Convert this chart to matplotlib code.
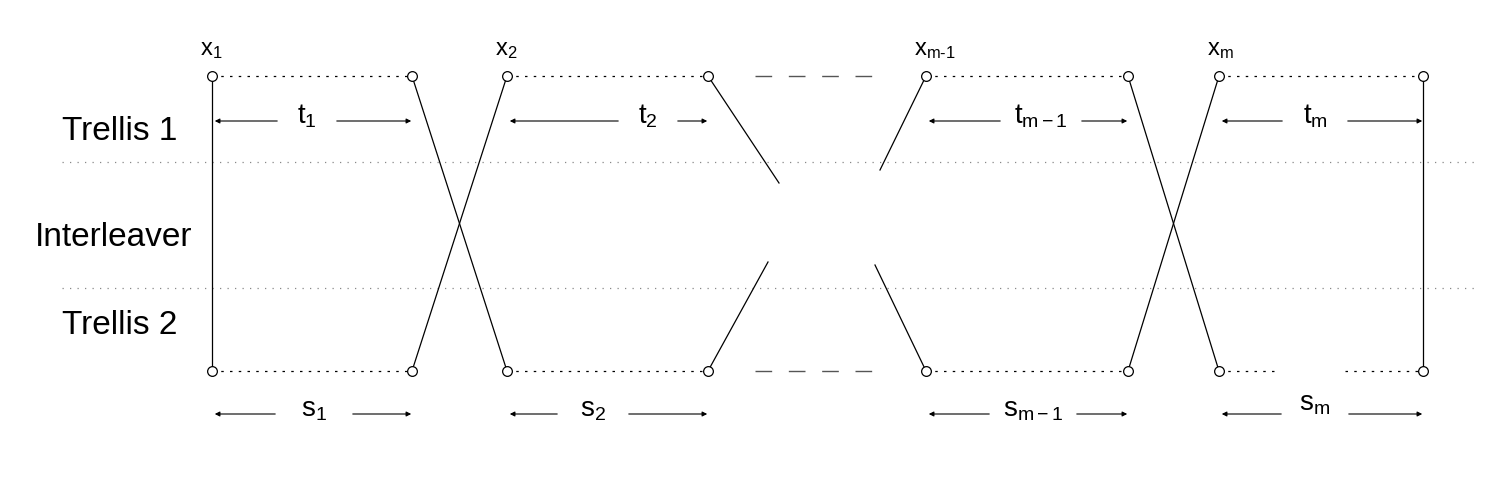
import matplotlib.pyplot as plt

plt.rcParams['font.family'] = ['Liberation Sans', 'DejaVu Sans']
plt.rcParams['mathtext.fontset'] = 'custom'
plt.rcParams['mathtext.rm'] = 'Liberation Sans'
plt.rcParams['mathtext.it'] = 'Liberation Sans'

# block edges (pixel coordinates of the original drawing)
left_x = [212, 507, 926, 1219]
right_x = [412, 708, 1128, 1423]
x_labels = ['$\\mathregular{x_1}$', '$\\mathregular{x_2}$', '$\\mathregular{x_{m\\text{-}1}}$', '$\\mathregular{x_m}$']
t_labels = ['$\\mathregular{t_1}$', '$\\mathregular{t_2}$', '$\\mathregular{t_{m-1}}$', '$\\mathregular{t_m}$']
s_labels = ['$\\mathregular{s_1}$', '$\\mathregular{s_2}$', '$\\mathregular{s_{m-1}}$', '$\\mathregular{s_m}$']
t_text_x = [307, 648, 1041, 1315]
t_gap = [27, 27, 38, 30]
s_text_x = [314, 593, 1033, 1315]
s_gap = [36, 33, 41, 31]
row_names = ['Trellis 1', 'Interleaver', 'Trellis 2']
row_y = [132, 237, 325]
row_x = [62, 35, 62]

Y_TOP, Y_BOT = 76, 371

fig = plt.figure(figsize=(15.02, 4.8), dpi=100)
ax = fig.add_axes([0, 0, 1, 1])
ax.set_xlim(0, 1502)
ax.set_ylim(480, 0)
ax.axis('off')

lw = 0.9
# separator lines
for y in (162, 288):
    ax.plot([62, 1475], [y, y], ls=(0, (1, 5)), color='#888888', lw=0.9)

for name, x, y in zip(row_names, row_x, row_y):
    ax.text(x, y, name, fontsize=24, va='center', ha='left')

# dotted trellis rows
for i, (a, b) in enumerate(zip(left_x, right_x)):
    ax.plot([a, b], [Y_TOP, Y_TOP], ls=(0, (2, 5)), color='k', lw=lw)
    if i < 3:
        ax.plot([a, b], [Y_BOT, Y_BOT], ls=(0, (2, 5)), color='k', lw=lw)
    else:
        ax.plot([a, 1275], [Y_BOT, Y_BOT], ls=(0, (2, 5)), color='k', lw=lw)
        ax.plot([1345, b], [Y_BOT, Y_BOT], ls=(0, (2, 5)), color='k', lw=lw)

# gap dashes
for y in (Y_TOP, Y_BOT):
    ax.plot([755, 872], [y, y], ls=(0, (12, 12)), color='#555555', lw=1.0)

# connections
conn = [
    ([212, 212], [Y_TOP, Y_BOT]),
    ([1423, 1423], [Y_TOP, Y_BOT]),
    ([412, 507], [Y_TOP, Y_BOT]),
    ([507, 412], [Y_TOP, Y_BOT]),
    ([1128, 1219], [Y_TOP, Y_BOT]),
    ([1219, 1128], [Y_TOP, Y_BOT]),
    ([708, 779], [Y_TOP, 183]),
    ([880, 926], [170, Y_TOP]),
    ([708, 768], [Y_BOT, 262]),
    ([875, 926], [265, Y_BOT]),
]
for xs, ys in conn:
    ax.plot(xs, ys, color='k', lw=lw)

# nodes
for xs in (left_x, right_x):
    for x in xs:
        for y in (Y_TOP, Y_BOT):
            ax.plot(x, y, 'o', ms=7, mfc='white', mec='k', mew=0.9, zorder=5)

for a, lab in zip(left_x, x_labels):
    ax.text(a - 12, 50, lab, fontsize=17, ha='left', va='center')

ap = dict(arrowstyle='-|>', lw=0.8, color='k', mutation_scale=7)
for a, b, tx, g, lab in zip(left_x, right_x, t_text_x, t_gap, t_labels):
    ax.text(tx, 116, lab, fontsize=20, ha='center', va='center')
    ax.annotate('', xy=(a, 121), xytext=(tx - g, 121), arrowprops=ap)
    ax.annotate('', xy=(b + 2, 121), xytext=(tx + g, 121), arrowprops=ap)
for i, (a, b, sx, g, lab) in enumerate(zip(left_x, right_x, s_text_x, s_gap, s_labels)):
    ys = 404 if i == 3 else 410
    ax.text(sx, ys, lab, fontsize=20, ha='center', va='center')
    ax.annotate('', xy=(a, 414), xytext=(sx - g, 414), arrowprops=ap)
    ax.annotate('', xy=(b + 2, 414), xytext=(sx + g, 414), arrowprops=ap)

fig.savefig('out.png', dpi=100)
